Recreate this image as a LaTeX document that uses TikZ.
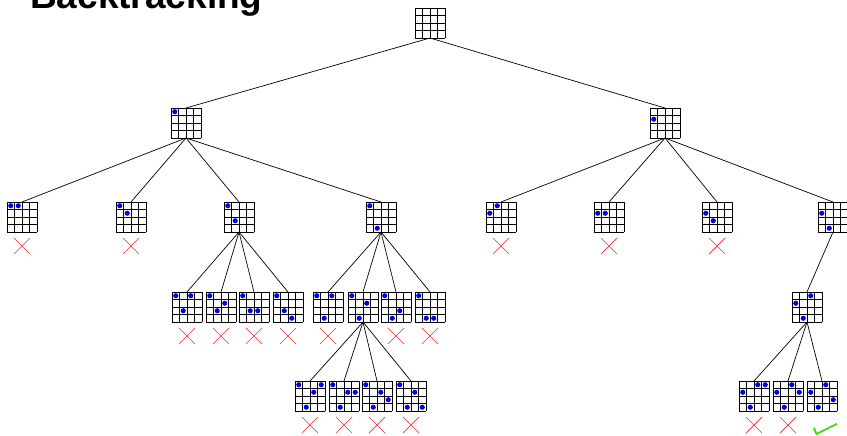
\documentclass[tikz,border=0pt]{standalone}
\usepackage{fontspec}
\setmainfont{Liberation Sans}
\usetikzlibrary{calc}
\definecolor{qblue}{RGB}{0,0,230}
\definecolor{xred}{RGB}{255,40,40}
\definecolor{okgreen}{RGB}{60,220,0}
\tikzset{
  board/.style={rectangle, minimum size=30pt, inner sep=0pt, outer sep=0pt, draw=none},
  gridln/.style={black, line width=0.8pt},
  queen/.style={fill=qblue},
  edge/.style={black, line width=0.7pt},
  failx/.style={xred, line width=0.7pt},
  okmark/.style={okgreen, line width=0.8pt},
  title/.style={anchor=base west, inner sep=0pt, font=\bfseries\fontsize{37}{40}\selectfont}
}
\newcommand\qboard[3]{%
  \node[board] (#1) at (#2,#3) {};
  \foreach \k in {0,...,4}{%
    \draw[gridln] ($(#1.north west)+(\k*7.5,0)$) -- ++(0,30);
    \draw[gridln] ($(#1.north west)+(0,\k*7.5)$) -- ++(30,0);
  }%
}
\newcommand\queens[2]{%
  \foreach \c/\r in {#2}{\fill[queen] ($(#1.north west)+(\c*7.5+3.75,\r*7.5+3.75)$) circle (2.6);}%
}
\newcommand\failmark[1]{%
  \draw[failx] ($(#1.south)+(-8,6)$) -- ++(16,16) ($(#1.south)+(8,6)$) -- ++(-16,16);%
}
\begin{document}
\begin{tikzpicture}[x=1pt,y=-1pt]
\useasboundingbox (0,0) rectangle (847,436);
\node[title] (ttl) at (30,9) {Backtracking};
% root
\qboard{R}{430}{23}
% level 1
\qboard{L}{186}{123} \queens{L}{0/0}
\qboard{Rt}{665}{123} \queens{Rt}{0/1}
% level 2
\qboard{A1}{22}{217}  \queens{A1}{0/0,1/0}
\qboard{A2}{131}{217} \queens{A2}{0/0,1/1}
\qboard{A3}{239}{217} \queens{A3}{0/0,1/2}
\qboard{A4}{381}{217} \queens{A4}{0/0,1/3}
\qboard{B1}{501}{217} \queens{B1}{0/1,1/0}
\qboard{B2}{609}{217} \queens{B2}{0/1,1/1}
\qboard{B3}{717}{217} \queens{B3}{0/1,1/2}
\qboard{B4}{833}{217} \queens{B4}{0/1,1/3}
% level 3
\qboard{C1}{187}{307} \queens{C1}{0/0,1/2,2/0}
\qboard{C2}{221}{307} \queens{C2}{0/0,1/2,2/1}
\qboard{C3}{254}{307} \queens{C3}{0/0,1/2,2/2}
\qboard{C4}{288}{307} \queens{C4}{0/0,1/2,2/3}
\qboard{D1}{328}{307} \queens{D1}{0/0,1/3,2/0}
\qboard{D2}{363}{307} \queens{D2}{0/0,1/3,2/1}
\qboard{D3}{396}{307} \queens{D3}{0/0,1/3,2/2}
\qboard{D4}{430}{307} \queens{D4}{0/0,1/3,2/3}
\qboard{E}{807}{307}  \queens{E}{0/1,1/3,2/0}
% level 4
\qboard{F1}{310}{396} \queens{F1}{0/0,1/3,2/1,3/0}
\qboard{F2}{344}{396} \queens{F2}{0/0,1/3,2/1,3/1}
\qboard{F3}{377}{396} \queens{F3}{0/0,1/3,2/1,3/2}
\qboard{F4}{411}{396} \queens{F4}{0/0,1/3,2/1,3/3}
\qboard{G1}{754}{396} \queens{G1}{0/1,1/3,2/0,3/0}
\qboard{G2}{788}{396} \queens{G2}{0/1,1/3,2/0,3/1}
\qboard{G3}{822}{396} \queens{G3}{0/1,1/3,2/0,3/2}
% edges
\foreach \p/\c in {R/L,R/Rt,L/A1,L/A2,L/A3,L/A4,Rt/B1,Rt/B2,Rt/B3,Rt/B4,
  A3/C1,A3/C2,A3/C3,A3/C4,A4/D1,A4/D2,A4/D3,A4/D4,B4/E,
  D2/F1,D2/F2,D2/F3,D2/F4,E/G1,E/G2,E/G3}
  \draw[edge] (\p.south) -- (\c.north);
% marks
\foreach \n in {A1,A2,B1,B2,B3,C1,C2,C3,C4,D1,D3,D4,F1,F2,F3,F4,G1,G2}
  \failmark{\n}
\draw[okmark] ($(G3.south)+(-8,17)$) -- ++(2.5,6) -- ++(20,-10);
\end{tikzpicture}
\end{document}
